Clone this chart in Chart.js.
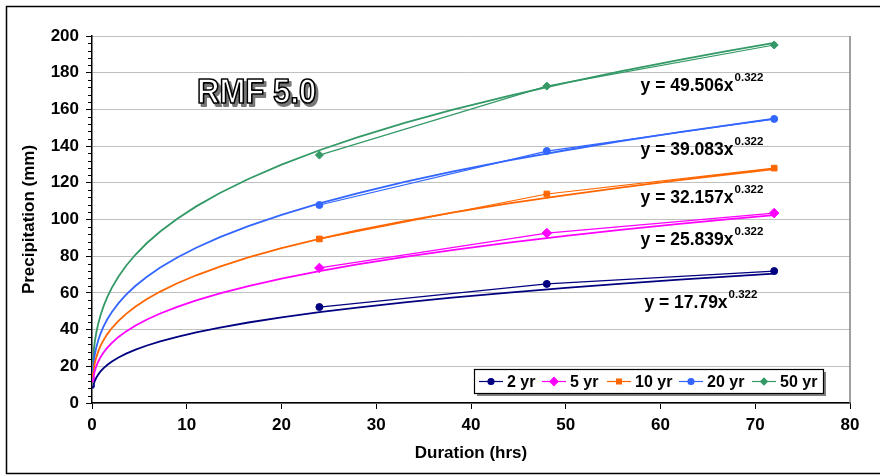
<!DOCTYPE html>
<html><head><meta charset="utf-8">
<script src="https://cdn.jsdelivr.net/npm/chart.js@4"></script>
<style>html,body{margin:0;padding:0;background:#fff}#wrap{width:880px;height:476px;position:relative}</style>
</head><body><div id="wrap"><canvas id="c" width="880" height="476"></canvas></div>
<script>
// ---- data ----
const durations = [24, 48, 72];
const seriesLabels = ['2 yr', '5 yr', '10 yr', '20 yr', '50 yr'];
const p2yr  = [52.3, 64.9, 71.9];
const p5yr  = [73.6, 92.6, 103.5];
const p10yr = [89.4, 113.9, 128.0];
const p20yr = [107.9, 137.3, 154.8];
const p50yr = [135.1, 172.7, 195.1];
// power trendlines shown on the chart: y = a * x^b
const trendCoef = [17.79, 25.839, 32.157, 39.083, 49.506];
const trendExp = 0.322;
const trendX = [0.08, 0.12, 0.2, 0.3, 0.45, 0.65, 0.9, 1.2, 1.6, 2.1, 2.8, 3.6, 4.6, 5.8, 7.2, 9, 11, 13.5, 16.5, 20, 24, 28, 33, 38, 44, 50, 56, 62, 67, 72];
const xTickValues = [0, 10, 20, 30, 40, 50, 60, 70, 80];
const yTickValues = [0, 20, 40, 60, 80, 100, 120, 140, 160, 180, 200];
const chartTitle = 'RMF 5.0';
const xTitle = 'Duration (hrs)';
const yTitle = 'Precipitation (mm)';

// ---- styles ----
const seriesValues = [p2yr, p5yr, p10yr, p20yr, p50yr];
const colors = ['#000080', '#FF00FF', '#FF6600', '#3366FF', '#339966'];
const markers = ['circle', 'rectRot', 'rect', 'circle', 'rectRot'];
const markerRadius = [3.5, 4.8, 4, 3.5, 4];
// equation label anchors (data coords, left/baseline)
const eqAnchorX = [58.3, 57.9, 57.9, 57.9, 57.9];
const eqAnchorY = [51.8, 86.1, 109.0, 135.1, 170.0];

const datasets = [];
seriesValues.forEach((vals, i) => {
  datasets.push({
    label: seriesLabels[i],
    data: durations.map((d, k) => ({x: d, y: vals[k]})),
    borderColor: colors[i], backgroundColor: colors[i],
    borderWidth: 1.2, pointStyle: markers[i], pointRadius: markerRadius[i],
    pointBorderWidth: 1, order: 1
  });
});
trendCoef.forEach((a, i) => {
  datasets.push({
    label: 'trend ' + seriesLabels[i],
    data: trendX.map(x => ({x: x, y: a * Math.pow(x, trendExp)})),
    borderColor: colors[i], borderWidth: 1.8, pointRadius: 0, tension: 0, order: 2
  });
});

const FONT = "'Liberation Sans', Arial, sans-serif";

const decor = {
  id: 'decor',
  beforeDraw(chart) {
    const c = chart.ctx; c.save(); c.fillStyle = '#fff'; c.fillRect(0, 0, chart.width, chart.height); c.restore();
  },
  afterDatasetsDraw(chart) {
    const {ctx, scales: {x, y}, chartArea: a} = chart;
    ctx.save();
    // plot area right border
    ctx.strokeStyle = '#808080'; ctx.lineWidth = 1.5;
    ctx.beginPath(); ctx.moveTo(a.right, a.top); ctx.lineTo(a.right, a.bottom); ctx.stroke();
    // y minor ticks
    ctx.strokeStyle = '#000'; ctx.lineWidth = 1;
    for (let v = 4; v < 200; v += 4) {
      if (v % 20 === 0) continue;
      const py = Math.round(y.getPixelForValue(v)) + 0.5;
      ctx.beginPath(); ctx.moveTo(a.left - 4, py); ctx.lineTo(a.left, py); ctx.stroke();
    }
    // equations
    ctx.fillStyle = '#000'; ctx.textBaseline = 'alphabetic'; ctx.textAlign = 'left';
    trendCoef.forEach((c, i) => {
      const px = x.getPixelForValue(eqAnchorX[i]);
      const py = y.getPixelForValue(eqAnchorY[i]);
      ctx.font = 'bold 17.5px ' + FONT;
      const main = 'y = ' + c + 'x';
      ctx.fillText(main, px, py);
      const w = ctx.measureText(main).width;
      ctx.font = 'bold 11.5px ' + FONT;
      ctx.fillText(String(trendExp), px + w + 1, py - 10);
    });
    // title "RMF 5.0"
    ctx.save();
    ctx.translate(197, 103);
    ctx.scale(0.84, 0.95);
    ctx.font = 'bold 37px ' + FONT;
    ctx.lineJoin = 'round';
    ctx.fillStyle = '#777'; ctx.strokeStyle = '#777'; ctx.lineWidth = 2.2;
    ctx.fillText(chartTitle, 3, 3); ctx.strokeText(chartTitle, 3, 3);
    ctx.fillStyle = '#fff'; ctx.strokeStyle = '#000'; ctx.lineWidth = 1.8;
    ctx.fillText(chartTitle, 0, 0); ctx.strokeText(chartTitle, 0, 0);
    ctx.restore();
    // legend
    const lx = 474, ly = 369, lw = 349, lh = 24;
    ctx.fillStyle = '#808080'; ctx.fillRect(lx + 3, ly + 3, lw, lh);
    ctx.fillStyle = '#fff'; ctx.fillRect(lx, ly, lw, lh);
    ctx.strokeStyle = '#000'; ctx.lineWidth = 1.2; ctx.strokeRect(lx + 0.5, ly + 0.5, lw, lh);
    const textX = [507, 570, 635, 707, 780];
    const cy = ly + lh / 2 + 0.5;
    ctx.font = 'bold 16px ' + FONT; ctx.textBaseline = 'middle';
    seriesLabels.forEach((lab, i) => {
      const x1 = textX[i] - 28, x2 = textX[i] - 4;
      ctx.strokeStyle = colors[i]; ctx.fillStyle = colors[i]; ctx.lineWidth = 1.2;
      ctx.beginPath(); ctx.moveTo(x1, cy); ctx.lineTo(x2, cy); ctx.stroke();
      Chart.helpers.drawPoint(ctx, {pointStyle: markers[i], radius: markerRadius[i] * 0.85, borderWidth: 1, rotation: 0}, (x1 + x2) / 2, cy);
      ctx.fillStyle = '#000';
      ctx.fillText(lab, textX[i], cy + 1);
    });
    // outer frame
    ctx.strokeStyle = '#000'; ctx.lineWidth = 1.5;
    ctx.strokeRect(6.5, 6.5, 900, 467);
    ctx.restore();
  }
};

new Chart(document.getElementById('c'), {
  type: 'line',
  data: {datasets},
  plugins: [decor],
  options: {
    responsive: false, animation: false, devicePixelRatio: 1,
    layout: {padding: {top: 36, right: 30, left: 0, bottom: 0}},
    plugins: {legend: {display: false}, tooltip: {enabled: false}, title: {display: false}},
    scales: {
      x: {
        type: 'linear', min: 0, max: 80,
        afterFit: s => { s.height = 73; },
        afterBuildTicks: s => { s.ticks = xTickValues.map(v => ({value: v})); },
        grid: {drawOnChartArea: false, tickColor: '#000', tickLength: 6, lineWidth: 1},
        border: {color: '#000', width: 1.5},
        ticks: {color: '#000', font: {family: FONT, size: 17, weight: 'bold'}, padding: 6, maxRotation: 0},
        title: {display: true, text: xTitle, color: '#000', font: {family: FONT, size: 17, weight: 'bold'}, padding: {top: 0, bottom: 12}}
      },
      y: {
        type: 'linear', min: 0, max: 200,
        afterFit: s => { s.width = 92; },
        afterBuildTicks: s => { s.ticks = yTickValues.map(v => ({value: v})); },
        grid: {color: '#C0C0C0', tickColor: '#000', tickLength: 6, lineWidth: 1},
        border: {color: '#000', width: 1.5},
        ticks: {color: '#000', font: {family: FONT, size: 17, weight: 'bold'}, padding: 7},
        title: {display: true, text: yTitle, color: '#000', font: {family: FONT, size: 17, weight: 'bold'}, padding: {top: 19, bottom: 0}}
      }
    }
  }
});
</script></body></html>
